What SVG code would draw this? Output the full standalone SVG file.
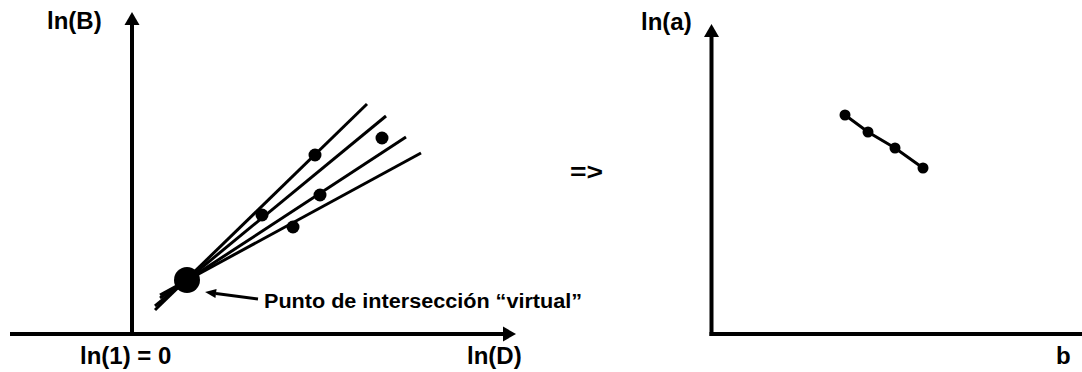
<svg xmlns="http://www.w3.org/2000/svg" width="1082" height="372" viewBox="0 0 1082 372">
<style>
.ax{stroke:#000;stroke-width:4;fill:none}
.ln{stroke:#000;stroke-width:3;fill:none}
.dot{fill:#000}
.lbl{font-family:"Liberation Sans",Arial,sans-serif;font-weight:bold;font-size:24px;fill:#000}
.ann{font-family:"Liberation Sans",Arial,sans-serif;font-weight:bold;font-size:20px;fill:#000}
</style>
<defs>
<marker id="ah" markerUnits="userSpaceOnUse" markerWidth="13" markerHeight="15" refX="0" refY="7.5" orient="auto" overflow="visible">
<path d="M0,0 L13,7.5 L0,15 Z" fill="#000"/>
</marker>
<marker id="ahs" markerUnits="userSpaceOnUse" markerWidth="11" markerHeight="9" refX="0" refY="4.5" orient="auto" overflow="visible">
<path d="M0,0 L11,4.5 L0,9 Z" fill="#000"/>
</marker>
</defs>
<rect width="1082" height="372" fill="#fff"/>

<g id="left-plot">
<g id="left-axes">
<line class="ax" x1="132" y1="336" x2="132" y2="25" marker-end="url(#ah)"/>
<line class="ax" x1="10" y1="334" x2="503" y2="334" marker-end="url(#ah)"/>
</g>
<g id="fit-lines">
<line class="ln" x1="155" y1="310" x2="367" y2="104"/>
<line class="ln" x1="155" y1="306" x2="386" y2="116"/>
<line class="ln" x1="160" y1="298" x2="406" y2="137"/>
<line class="ln" x1="160" y1="295" x2="421" y2="153"/>
</g>
<g id="data-points">
<circle class="dot" cx="315" cy="155" r="6.5"/>
<circle class="dot" cx="262" cy="215" r="6.5"/>
<circle class="dot" cx="320" cy="195" r="6.5"/>
<circle class="dot" cx="293" cy="227" r="6.5"/>
<circle class="dot" cx="382" cy="138" r="6.5"/>
</g>
<g id="intersection">
<circle class="dot" cx="187" cy="280" r="13"/>
</g>
<g id="annotation">
<line class="ln" x1="258" y1="299" x2="216" y2="293.5" marker-end="url(#ahs)"/>
<text class="ann" x="264" y="308" textLength="318" lengthAdjust="spacingAndGlyphs">Punto de intersección “virtual”</text>
</g>
<g id="left-labels">
<text class="lbl" x="47" y="29">ln(B)</text>
<text class="lbl" x="80" y="364">ln(1) = 0</text>
<text class="lbl" x="467" y="364">ln(D)</text>
</g>
</g>

<g id="implies">
<text class="lbl" x="570" y="180" textLength="33" lengthAdjust="spacingAndGlyphs">=&gt;</text>
</g>

<g id="right-plot">
<g id="right-axes">
<line class="ax" x1="711.5" y1="336" x2="711.5" y2="37" marker-end="url(#ah)"/>
<line class="ax" x1="709.5" y1="334" x2="1082" y2="334"/>
</g>
<g id="right-series">
<polyline class="ln" points="845,115 868,132 895,148 923,168"/>
<circle class="dot" cx="845" cy="115" r="5.5"/>
<circle class="dot" cx="868" cy="132" r="5.5"/>
<circle class="dot" cx="895" cy="148" r="5.5"/>
<circle class="dot" cx="923" cy="168" r="5.5"/>
</g>
<g id="right-labels">
<text class="lbl" x="641" y="30">ln(a)</text>
<text class="lbl" x="1056" y="364">b</text>
</g>
</g>
</svg>
